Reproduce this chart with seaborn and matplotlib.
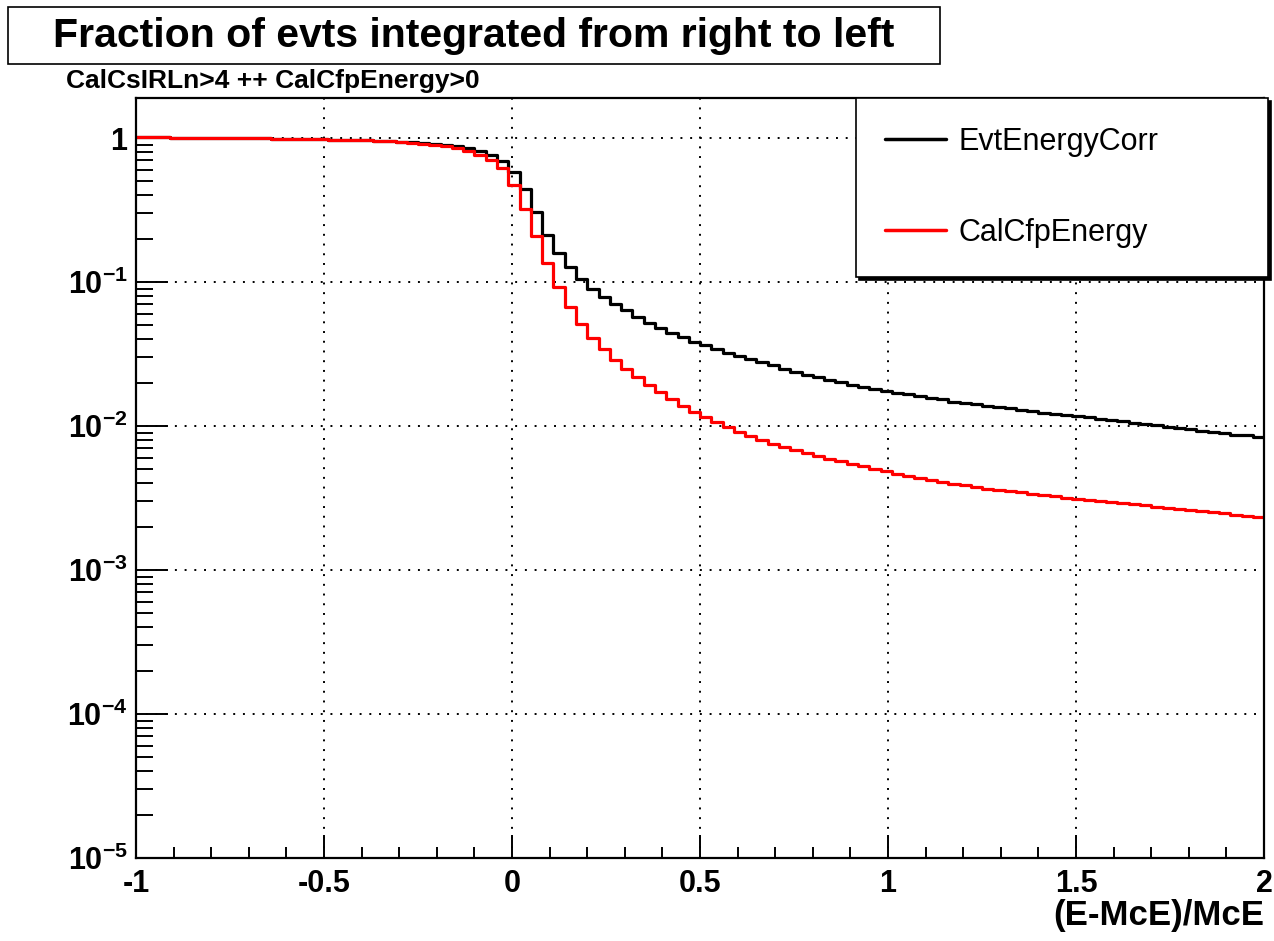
import numpy as np
import pandas as pd
import matplotlib
matplotlib.use("Agg")
import matplotlib.pyplot as plt
import matplotlib.ticker as ticker
from matplotlib.patches import Rectangle
import seaborn as sns

###
### DATA (fraction of events integrated from right to left, 100 bins on [-1, 2])
###

x_min, x_max, n_bins = -1.0, 2.0, 100

evt_energy_corr = [
    1.011, 1.011, 1.010, 1.008, 1.006, 1.005, 1.003, 1.002, 1.000, 0.998,
    0.997, 0.995, 0.992, 0.989, 0.986, 0.983, 0.979, 0.976, 0.973, 0.969,
    0.964, 0.958, 0.952, 0.944, 0.935, 0.923, 0.910, 0.896, 0.879, 0.851,
    0.812, 0.759, 0.689, 0.578, 0.440, 0.306, 0.213, 0.159, 0.1275, 0.1052,
    0.0897, 0.0783, 0.0700, 0.0636, 0.0569, 0.0517, 0.0477, 0.0440, 0.0413, 0.0384,
    0.0363, 0.0345, 0.0322, 0.0307, 0.0291, 0.0278, 0.0264, 0.0250, 0.0238, 0.0227,
    0.0219, 0.0210, 0.0202, 0.0194, 0.0187, 0.0181, 0.0176, 0.0171, 0.0166, 0.0162,
    0.0156, 0.0153, 0.0148, 0.0144, 0.0142, 0.0138, 0.0135, 0.0133, 0.0130, 0.0127,
    0.0124, 0.0122, 0.0119, 0.0117, 0.0115, 0.0112, 0.0110, 0.0108, 0.0105, 0.0103,
    0.0101, 0.0099, 0.0097, 0.0095, 0.0093, 0.0091, 0.0089, 0.0087, 0.0086, 0.0084,
]

cal_cfp_energy = [
    1.011, 1.011, 1.010, 1.008, 1.006, 1.005, 1.003, 1.002, 1.000, 0.998,
    0.997, 0.995, 0.992, 0.989, 0.986, 0.983, 0.979, 0.976, 0.973, 0.969,
    0.964, 0.958, 0.952, 0.941, 0.929, 0.914, 0.896, 0.876, 0.851, 0.815,
    0.759, 0.706, 0.616, 0.469, 0.323, 0.209, 0.135, 0.0926, 0.0671, 0.0514,
    0.0406, 0.0345, 0.0286, 0.0250, 0.0219, 0.0192, 0.0172, 0.0155, 0.0138, 0.0125,
    0.0115, 0.0107, 0.00984, 0.00909, 0.00855, 0.00804, 0.00755, 0.00715, 0.00678, 0.00649,
    0.00619, 0.00594, 0.00569, 0.00548, 0.00525, 0.00506, 0.00487, 0.00467, 0.00450, 0.00435,
    0.00420, 0.00408, 0.00398, 0.00387, 0.00377, 0.00367, 0.00360, 0.00353, 0.00346, 0.00339,
    0.00332, 0.00326, 0.00319, 0.00313, 0.00308, 0.00302, 0.00297, 0.00291, 0.00286, 0.00281,
    0.00276, 0.00271, 0.00266, 0.00261, 0.00257, 0.00252, 0.00248, 0.00243, 0.00239, 0.00235,
]

series_names = ["EvtEnergyCorr", "CalCfpEnergy"]
series_colors = ["black", "red"]
y_tick_values = [1e-5, 1e-4, 1e-3, 1e-2, 1e-1, 1]
y_tick_labels = [r"$\mathbf{10^{-5}}$", r"$\mathbf{10^{-4}}$", r"$\mathbf{10^{-3}}$",
                 r"$\mathbf{10^{-2}}$", r"$\mathbf{10^{-1}}$", r"$\mathbf{1}$"]

###
### SHAPE INTO A LONG TABLE
###

edges = np.linspace(x_min, x_max, n_bins + 1)
centers = 0.5 * (edges[:-1] + edges[1:])
df = pd.concat([
    pd.DataFrame({"x": centers, "frac": evt_energy_corr, "var": series_names[0]}),
    pd.DataFrame({"x": centers, "frac": cal_cfp_energy, "var": series_names[1]}),
])

###
### PLOT
###

sns.set_style("white")
plt.rcParams["font.family"] = ["Liberation Sans", "DejaVu Sans"]
plt.rcParams["mathtext.fontset"] = "custom"
plt.rcParams["mathtext.rm"] = "Liberation Sans"
plt.rcParams["mathtext.bf"] = "Liberation Sans:bold"
for key in ["text.color", "axes.labelcolor", "xtick.color", "ytick.color"]:
    plt.rcParams[key] = "black"

fig = plt.figure(figsize=(12.74, 9.41), dpi=100)
ax = fig.add_axes([0.1068, 0.0882, 0.8854, 0.8077])

for name, col in zip(series_names, series_colors):
    sub = df[df["var"] == name]
    sns.histplot(data=sub, x="x", weights="frac", bins=n_bins, binrange=(x_min, x_max),
                 element="step", fill=False, color=col, linewidth=2.3, ax=ax, label=name)

ax.set_yscale("log")
ax.set_xlim(x_min, x_max)
ax.set_ylim(1e-5, 1.9)

### ticks, ROOT style: inside, left and bottom only
ax.xaxis.set_major_locator(ticker.MultipleLocator(0.5))
ax.xaxis.set_minor_locator(ticker.MultipleLocator(0.1))
ax.xaxis.set_major_formatter(ticker.FuncFormatter(lambda v, p: "%g" % v))
ax.yaxis.set_major_locator(ticker.FixedLocator(y_tick_values))
ax.yaxis.set_major_formatter(ticker.FixedFormatter(y_tick_labels))
ax.yaxis.set_minor_locator(ticker.LogLocator(base=10, subs=np.arange(2, 10)))
ax.yaxis.set_minor_formatter(ticker.NullFormatter())
ax.tick_params(axis="both", which="both", direction="in", width=1.4,
               bottom=True, left=True, top=False, right=False, color="black")
ax.tick_params(axis="x", which="major", length=16.5, labelsize=22, pad=8)
ax.tick_params(axis="x", which="minor", length=8)
ax.tick_params(axis="y", which="major", length=23, labelsize=22, pad=6)
ax.tick_params(axis="y", which="minor", length=12)
for lab in ax.get_xticklabels():
    lab.set_fontweight("bold")

ax.grid(True, which="major", color="black", linestyle=(0, (1, 4)), linewidth=1.4)
for s in ax.spines.values():
    s.set_linewidth(1.6)
    s.set_color("black")

ax.set_xlabel("")
ax.set_ylabel("")
fig.text(0.9922, 1 - 915 / 941, "(E-McE)/McE", ha="right", va="center",
         fontsize=25, fontweight="bold")

### title box
fig.patches.append(Rectangle((8 / 1274, 1 - 64 / 941), 932 / 1274, 57 / 941,
                             transform=fig.transFigure, facecolor="white",
                             edgecolor="black", linewidth=1.2))
fig.text(474 / 1274, 1 - 36 / 941, "Fraction of evts integrated from right to left",
         ha="center", va="center", fontsize=29.5, fontweight="bold")
fig.text(66 / 1274, 1 - 81 / 941, "CalCsIRLn>4 ++ CalCfpEnergy>0",
         ha="left", va="center", fontsize=19, fontweight="bold")

### legend with shadow
leg = ax.legend(loc="upper left",
                bbox_to_anchor=(856 / 1274, 1 - 278 / 941, 412 / 1274, 180 / 941),
                bbox_transform=fig.transFigure, mode="expand", fontsize=22,
                frameon=True, fancybox=False, shadow={"color": "black", "alpha": 1},
                handlelength=2.0, handletextpad=0.4, labelspacing=2.0,
                borderpad=0.95, borderaxespad=0)
leg.get_frame().set_edgecolor("black")
leg.get_frame().set_linewidth(1.2)
for h in leg.get_lines():
    h.set_linewidth(2.5)

plt.savefig("out.png", dpi=100)
